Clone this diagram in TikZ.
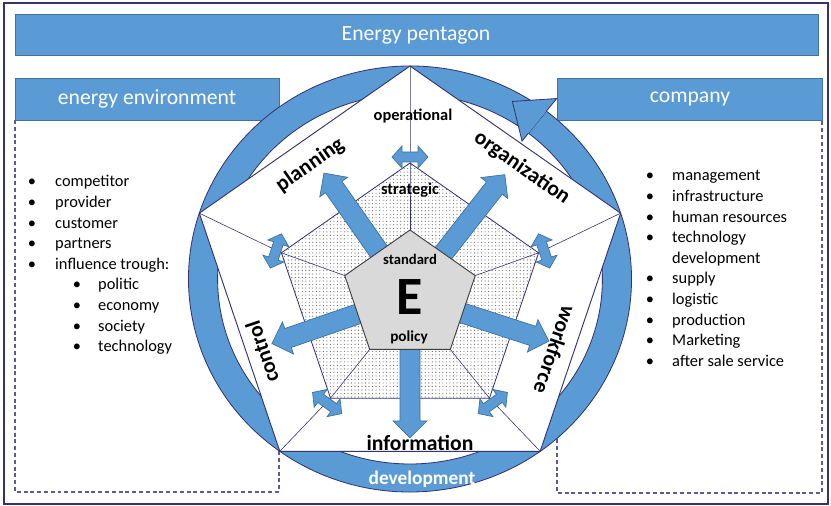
\documentclass[tikz,border=0pt]{standalone}
\usepackage{fontspec}
\setmainfont{Carlito}
\usepackage{xcolor}
\usepackage{tikz}
\usetikzlibrary{patterns}

\definecolor{penblue}{HTML}{5B9BD5}
\definecolor{penedge}{HTML}{41719C}
\definecolor{navyline}{HTML}{33336E}
\definecolor{dashline}{HTML}{5A5A9C}
\definecolor{corefill}{HTML}{D9D9D9}

\tikzset{
  bluebox/.style={fill=penblue, draw=penedge, line width=0.8pt},
  headtext/.style={text=white, inner sep=0pt, font=\fontsize{18.5}{22}\selectfont},
  dashbox/.style={draw=dashline, dash pattern=on 3.4pt off 2.4pt, line width=1.1pt},
  itemtext/.style={anchor=base west, inner sep=0pt, font=\fontsize{14}{17}\selectfont},
  itembullet/.style={anchor=base, inner sep=0pt, font=\fontsize{14}{17}\selectfont},
  sidelabel/.style={inner sep=0pt, font=\bfseries\fontsize{18.5}{22}\selectfont},
  levellabel/.style={inner sep=0pt, font=\bfseries\fontsize{14}{17}\selectfont},
  ringstyle/.style={fill=penblue, draw=navyline, line width=0.7pt},
  arrowbox/.style={fill=penblue, draw=penedge, line width=0.6pt, line join=miter},
}

\begin{document}
\begin{tikzpicture}[x=0.03cm, y=0.03cm]
\useasboundingbox (0,0) rectangle (831,506);
% --- frame, title and the two side boxes ---
\draw[navyline, line width=0.9pt] (4,2) rectangle (828,503);
\draw[bluebox] (15,451) rectangle (818,492);
\node[headtext] (title) at (416,471) {Energy pentagon};
\draw[dashbox] (15,386) -- (15,14) -- (279,14) -- (279,386);
\draw[dashbox] (557,386) -- (557,13) -- (822,13) -- (822,386);
\draw[bluebox] (15,386) rectangle (279,428);
\node[headtext] (env) at (147,407) {energy environment};
\draw[bluebox] (557,386) rectangle (822,428);
\node[headtext] (comp) at (690,407) {company};
% left list
\foreach \txt [count=\k from 0] in {competitor, provider, customer, partners, influence trough:} {
  \node[itembullet] at (32,319-20.6*\k) {\textbullet};
  \node[itemtext] (env\k) at (55,319-20.6*\k) {\txt};
}
\foreach \txt [count=\k from 5] in {politic, economy, society, technology} {
  \node[itembullet] at (77,319-20.6*\k) {\textbullet};
  \node[itemtext] (env\k) at (98,319-20.6*\k) {\txt};
}
% right list
\foreach \txt [count=\k from 0] in {management, infrastructure, human resources, technology, development, supply, logistic, production, Marketing, after sale service} {
  \ifnum\k=4\else\node[itembullet] at (650,325-20.6*\k) {\textbullet};\fi
  \node[itemtext] (comp\k) at (672,325-20.6*\k) {\txt};
}
% --- ring around the pentagon ---
\begin{scope}[shift={(410,227)}, xscale=1.04]
\fill[white] (0,0) circle[radius=213];
\draw[ringstyle] (56:213) arc[start angle=56, end angle=412, radius=213]
  -- (412:185) arc[start angle=412, end angle=56, radius=185] -- cycle;
\end{scope}
% corner points of the three pentagons
\foreach \ang [count=\i] in {90,162,234,306,18} {
  \path (410,227) ++(\ang:221.5 and 213) coordinate (o\i);
  \path (410,213) ++(\ang:135.2 and 130) coordinate (d\i);
  \path (410,210) ++(\ang:68.6 and 66) coordinate (g\i);
}
\coordinate (core) at (410,210);
\draw[fill=white, draw=navyline, line width=0.8pt] (o1) -- (o2) -- (o3) -- (o4) -- (o5) -- cycle;
\draw[navyline, line width=0.7pt, pattern=dots, pattern color=black!60] (d1) -- (d2) -- (d3) -- (d4) -- (d5) -- cycle;
\foreach \i in {1,...,5}
  \draw[navyline, line width=0.5pt] (o\i) -- (d\i) -- (g\i);
% arrows out of the core
\foreach \ang/\alen in {125/150, 52/154, -18/146, -90/142, 199/146}
  \draw[arrowbox, shift={(core)}, rotate=\ang] (40,-10) -- (\alen-17,-10) -- (\alen-17,-17)
    -- (\alen,0) -- (\alen-17,17) -- (\alen-17,10) -- (40,10) -- cycle;
\draw[fill=corefill, draw=black!75, line width=0.8pt] (g1) -- (g2) -- (g3) -- (g4) -- (g5) -- cycle;
% double arrows at the strategic corners
\begin{scope}[shift={(410,213)}]
\foreach \ang in {90,162,234,306,18}
  \draw[arrowbox, shift={(\ang:141 and 136)}, rotate=\ang+90] (-18,0) -- (-8,-11) -- (-8,-5)
    -- (8,-5) -- (8,-11) -- (18,0) -- (8,11) -- (8,5) -- (-8,5) -- (-8,11) -- cycle;
\end{scope}
% arrow head of the ring
\begin{scope}[shift={(410,227)}, xscale=1.04]
\fill[penblue] (412:213) -- (412:229) -- (421:203) -- (412:175) -- (412:185) -- cycle;
\draw[navyline, line width=0.7pt, line join=miter] (412:213) -- (412:229) -- (421:203) -- (412:175) -- (412:185);
\end{scope}
% --- labels ---
\node[levellabel] (oper) at (413,390) {operational};
\node[levellabel] (strat) at (410,316) {strategic};
\node[inner sep=0pt, font=\bfseries\fontsize{12.5}{15}\selectfont] (stand) at (410,247) {standard};
\node[inner sep=0pt, font=\bfseries\fontsize{46}{46}\selectfont] (E) at (410,209) {E};
\node[inner sep=0pt, font=\bfseries\fontsize{13}{15}\selectfont] (pol) at (409,169) {policy};
\node[sidelabel, rotate=34.9] (plan) at (310,341) {planning};
\node[sidelabel, rotate=-34.9] (orga) at (522,338) {organization};
\node[sidelabel, rotate=-108.7] (work) at (555,156) {workforce};
\node[sidelabel, rotate=108.7] (ctrl) at (262,154) {control};
\node[sidelabel] (info) at (420,63) {information};
\node[inner sep=0pt, text=white, font=\bfseries\fontsize{16.5}{20}\selectfont] (devel) at (422,27) {development};
\end{tikzpicture}
\end{document}
